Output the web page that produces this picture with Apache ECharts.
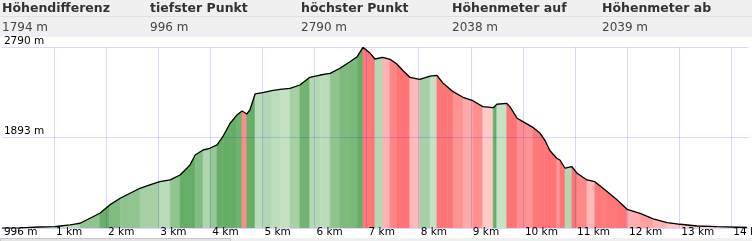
<!DOCTYPE html>
<html>
<head>
<meta charset="utf-8">
<script src="https://cdn.jsdelivr.net/npm/echarts@6/dist/echarts.min.js"></script>
<style>
html,body{margin:0;padding:0;background:#fff;}
#chart{width:752px;height:241px;}
</style>
</head>
<body>
<div id="chart"></div>
<script>
// ---- data ----
var headerLabels = ['Höhendifferenz', 'tiefster Punkt', 'höchster Punkt', 'Höhenmeter auf', 'Höhenmeter ab'];
var headerValues = ['1794 m', '996 m', '2790 m', '2038 m', '2039 m'];
var distKm = [0, 0.35, 0.73, 1.02, 1.12, 1.31, 1.40, 1.50, 1.69, 1.88, 2.07, 2.27, 2.46, 2.65, 2.84, 3.03, 3.23, 3.42, 3.61, 3.71, 3.86, 3.99, 4.13, 4.24, 4.38, 4.51, 4.61, 4.70, 4.76, 4.86, 5.01, 5.18, 5.34, 5.53, 5.72, 5.91, 6.11, 6.30, 6.49, 6.68, 6.82, 6.93, 7.07, 7.16, 7.31, 7.45, 7.58, 7.70, 7.83, 8.02, 8.22, 8.35, 8.47, 8.66, 8.85, 9.04, 9.23, 9.43, 9.50, 9.69, 9.75, 9.89, 10.00, 10.19, 10.33, 10.42, 10.52, 10.65, 10.71, 10.81, 10.94, 11.04, 11.23, 11.38, 11.58, 11.81, 12.00, 12.25, 12.50, 12.77, 13.02, 13.34, 13.72, 14.30];
var elevM = [996, 999, 1007, 1010, 1017, 1027, 1035, 1044, 1094, 1143, 1226, 1292, 1342, 1391, 1424, 1457, 1474, 1523, 1622, 1722, 1771, 1788, 1821, 1903, 2036, 2118, 2158, 2128, 2168, 2327, 2340, 2360, 2373, 2383, 2416, 2492, 2515, 2532, 2582, 2647, 2697, 2790, 2730, 2674, 2691, 2671, 2624, 2558, 2492, 2472, 2505, 2512, 2433, 2350, 2294, 2260, 2201, 2191, 2225, 2234, 2201, 2086, 2052, 1996, 1937, 1870, 1764, 1689, 1672, 1590, 1606, 1540, 1474, 1457, 1374, 1275, 1183, 1143, 1087, 1050, 1034, 1017, 1010, 1002];
var yTicks = [996, 1893, 2790];
var xMaxKm = 14.33;
var kmTicks = [1, 2, 3, 4, 5, 6, 7, 8, 9, 10, 11, 12, 13, 14];

// ---- build ----
var yMin = yTicks[0], yMax = yTicks[yTicks.length - 1];
var linePts = distKm.map(function (d, i) { return [d, elevM[i]]; });
var segs = [];
for (var i = 0; i < distKm.length - 1; i++) {
  segs.push([distKm[i], distKm[i + 1], elevM[i], elevM[i + 1]]);
}
function mix(a, b, t) {
  return 'rgb(' + [0, 1, 2].map(function (k) { return Math.round(a[k] + (b[k] - a[k]) * t); }).join(',') + ')';
}
function gradeColor(g) {
  var t = Math.pow(Math.min(Math.abs(g) / 0.45, 1), 0.85);
  if (g >= 0) return mix([214, 235, 214], [102, 174, 102], t);
  return mix([255, 216, 216], [255, 116, 116], t);
}

var chart = echarts.init(document.getElementById('chart'), null, { renderer: 'canvas' });
var FONT = 'DejaVu Sans';
var graphics = [
  { type: 'rect', shape: { x: 0, y: 0, width: 752, height: 37 }, style: { fill: '#f0f0f0' }, z: 0, silent: true },
  { type: 'rect', shape: { x: 0, y: 16, width: 752, height: 1 }, style: { fill: '#e0e0e0' }, z: 1, silent: true },
  { type: 'rect', shape: { x: 0, y: 238, width: 752, height: 3 }, style: { fill: '#f0f0f0' }, z: 1, silent: true },
  { type: 'rect', shape: { x: 0.5, y: 238.5, width: 230, height: 4 }, style: { fill: '#e4e4e4', stroke: '#c8c8c8', lineWidth: 1 }, z: 1, silent: true }
];
var colX = [2, 150, 301, 452, 602];
headerLabels.forEach(function (t, i) {
  graphics.push({ type: 'text', x: colX[i], y: 8.5, z: 2, silent: true,
    style: { text: t, fill: '#333', font: 'bold 12.5px "' + FONT + '"', verticalAlign: 'middle', align: 'left' } });
  graphics.push({ type: 'text', x: colX[i], y: 28, z: 2, silent: true,
    style: { text: headerValues[i], fill: '#444', font: '12px "' + FONT + '"', verticalAlign: 'middle', align: 'left' } });
});

var gridColor = 'rgba(0,0,255,0.15)';
chart.setOption({
  animation: false,
  backgroundColor: '#fff',
  grid: { left: 1.9, top: 47.3, width: 52.1 * xMaxKm, height: 180.8, containLabel: false, outerBoundsMode: 'none' },
  xAxis: {
    type: 'value', min: 0, max: xMaxKm, interval: 1, z: 3,
    axisLine: { show: false }, axisTick: { show: false },
    splitLine: { show: true, showMinLine: false, showMaxLine: false, lineStyle: { color: gridColor, width: 1 } },
    axisLabel: {
      show: true, color: '#000', fontFamily: FONT, fontSize: 10.5, align: 'left', verticalAlign: 'middle',
      margin: 4.5, padding: [0, 0, 0, 2], showMaxLabel: false, hideOverlap: false,
      formatter: function (v) {
        if (v === 0) return yMin + ' m';
        return kmTicks.indexOf(v) >= 0 ? v + ' km' : '';
      }
    }
  },
  yAxis: { type: 'value', min: yMin, max: yMax, show: false, splitLine: { show: false } },
  graphic: graphics,
  series: [
    {
      type: 'custom', z: 1, silent: true, clip: true,
      encode: { x: [0, 1], y: [2, 3] },
      data: segs,
      renderItem: function (params, api) {
        var x0 = api.value(0), x1 = api.value(1), e0 = api.value(2), e1 = api.value(3);
        var g = (e1 - e0) / ((x1 - x0) * 1000);
        var c = gradeColor(g);
        return {
          type: 'polygon',
          shape: { points: [api.coord([x0, yMin]), api.coord([x0, e0]), api.coord([x1, e1]), api.coord([x1, yMin])] },
          style: { fill: c, stroke: c, lineWidth: 0.6 }
        };
      }
    },
    {
      type: 'line', z: 4, silent: true, data: linePts, showSymbol: false, smooth: false,
      lineStyle: { color: '#000', width: 1.3 },
      markLine: {
        silent: true, symbol: ['none', 'none'], animation: false,
        lineStyle: { color: gridColor, type: 'solid', width: 1 },
        data: yTicks.map(function (v) {
          return {
            yAxis: v,
            label: {
              show: v !== yMin, position: 'insideStartTop', formatter: v + ' m',
              color: '#000', fontFamily: FONT, fontSize: 10.5, distance: [2, 1]
            }
          };
        })
      }
    }
  ]
});
</script>
</body>
</html>
